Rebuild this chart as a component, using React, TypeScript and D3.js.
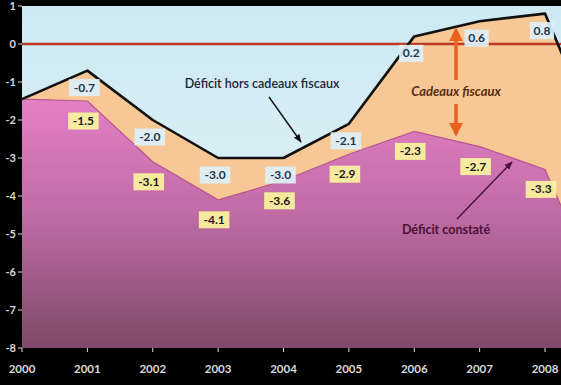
import React from 'react'
import * as d3 from 'd3'

const years = [2000, 2001, 2002, 2003, 2004, 2005, 2006, 2007, 2008, 2009]
// déficit hors cadeaux fiscaux (black line)
const horsCadeaux = [-1.45, -0.7, -2.0, -3.0, -3.0, -2.1, 0.2, 0.6, 0.8, -3.3]
// déficit constaté (pink area)
const constate = [-1.45, -1.5, -3.1, -4.1, -3.6, -2.9, -2.3, -2.7, -3.3, -7.2]
const labelYears = [2001, 2002, 2003, 2004, 2005, 2006, 2007, 2008]
const xTicks = [2000, 2001, 2002, 2003, 2004, 2005, 2006, 2007, 2008]
const yTicks = [1, 0, -1, -2, -3, -4, -5, -6, -7, -8]

const W = 561
const H = 385
const left = 22
const top = 6
const bottom = 348

const fmt = (v: number) => v.toFixed(1)

export default function App() {
  const x = d3.scaleLinear().domain([2000, 2008]).range([left, 545])
  const y = d3.scaleLinear().domain([1, -8]).range([top, bottom])

  const line = d3.line<number>().x((_, i) => x(years[i])).y(d => y(d))
  const area = d3.area<number>().x((_, i) => x(years[i])).y0(y(-8)).y1(d => y(d))

  const font = 'Lato, "Open Sans", sans-serif'

  const label = (v: number, cx: number, cy: number, kind: 'blue' | 'yellow', key: string) => {
    const t = fmt(v)
    const w = t.length * 6.4 + 5
    return (
      <g key={key}>
        <rect x={cx - w / 2} y={cy - 8.5} width={w} height={17}
          fill={kind === 'blue' ? '#dcf0f7' : '#fbf49c'} opacity={0.92} />
        <text x={cx} y={cy + 4} textAnchor="middle" fontSize={12} fontWeight={700}
          fontFamily={font} fill={kind === 'blue' ? '#1d3550' : '#1a1a1a'}>{t}</text>
      </g>
    )
  }

  return (
    <svg width={W} height={H} style={{ position: 'absolute', left: 0, top: 0, background: '#000' }}>
      <defs>
        <linearGradient id="pinkGrad" x1="0" y1={y(-1.5)} x2="0" y2={y(-8)} gradientUnits="userSpaceOnUse">
          <stop offset="0" stopColor="#e47fc4" />
          <stop offset="0.45" stopColor="#c06ca6" />
          <stop offset="1" stopColor="#7e4a68" />
        </linearGradient>
        <linearGradient id="blueGrad" x1="0" y1={top} x2="0" y2={y(-3)} gradientUnits="userSpaceOnUse">
          <stop offset="0" stopColor="#cde9f2" />
          <stop offset="1" stopColor="#d8eef5" />
        </linearGradient>
        <clipPath id="plot">
          <rect x={left} y={top} width={W - left} height={bottom - top} />
        </clipPath>
        <marker id="arrBlack" viewBox="0 0 10 10" refX="9" refY="5" markerWidth="6" markerHeight="6" orient="auto">
          <path d="M0,1 L10,5 L0,9 Z" fill="#111" />
        </marker>
        <marker id="arrMaroon" viewBox="0 0 10 10" refX="9" refY="5" markerWidth="6" markerHeight="6" orient="auto">
          <path d="M0,1 L10,5 L0,9 Z" fill="#4a1036" />
        </marker>
        <marker id="arrOrange" viewBox="0 0 10 10" refX="8" refY="5" markerWidth="4" markerHeight="4" orient="auto">
          <path d="M0,0 L10,5 L0,10 Z" fill="#e8621c" />
        </marker>
      </defs>

      <g clipPath="url(#plot)">
        <rect x={left} y={top} width={W - left} height={bottom - top} fill="url(#blueGrad)" />
        <path d={area(horsCadeaux) || ''} fill="#f8c796" />
        <path d={area(constate) || ''} fill="url(#pinkGrad)" />
        <path d={line(constate) || ''} fill="none" stroke="#b8558e" strokeWidth={1.2} />
        <line x1={left} x2={W} y1={y(0)} y2={y(0)} stroke="#bf3a26" strokeWidth={2.4} />
        <path d={line(horsCadeaux) || ''} fill="none" stroke="#111" strokeWidth={2.6} strokeLinejoin="round" />
      </g>

      {/* axes */}
      {yTicks.map(t => (
        <g key={'y' + t}>
          <line x1={left - 4} x2={left} y1={y(t)} y2={y(t)} stroke="#ddd" strokeWidth={1} />
          <text x={left - 6} y={y(t) + 4} textAnchor="end" fontSize={11} fontWeight={700}
            fontFamily={font} fill="#d8d8d8">{t}</text>
        </g>
      ))}
      {xTicks.map(t => (
        <g key={'x' + t}>
          <line x1={x(t)} x2={x(t)} y1={bottom} y2={bottom + 4} stroke="#ddd" strokeWidth={1} />
          <text x={x(t)} y={bottom + 25} textAnchor="middle" fontSize={11.5} fontWeight={700}
            fontFamily={font} fill="#d8d8d8">{t}</text>
        </g>
      ))}

      {/* value labels */}
      {labelYears.map(yr => {
        const i = years.indexOf(yr)
        return label(horsCadeaux[i], x(yr) - 3, y(horsCadeaux[i]) + 17, 'blue', 'b' + yr)
      })}
      {labelYears.map(yr => {
        const i = years.indexOf(yr)
        return label(constate[i], x(yr) - 4, y(constate[i]) + 20, 'yellow', 'p' + yr)
      })}

      {/* annotations */}
      <text x={262} y={88} textAnchor="middle" fontSize={12.5} fontWeight={600}
        fontFamily={font} fill="#1a2633">Déficit hors cadeaux fiscaux</text>
      <line x1={269} y1={97} x2={301} y2={142} stroke="#111" strokeWidth={1.4} markerEnd="url(#arrBlack)" />

      <line x1={456} y1={80} x2={456} y2={30} stroke="#e8621c" strokeWidth={3.5} markerEnd="url(#arrOrange)" />
      <line x1={456} y1={104} x2={456} y2={134} stroke="#e8621c" strokeWidth={3.5} markerEnd="url(#arrOrange)" />
      <text x={456} y={96} textAnchor="middle" fontSize={13} fontWeight={700} fontStyle="italic"
        fontFamily={font} fill="#5a2c12">Cadeaux fiscaux</text>

      <text x={446} y={234} textAnchor="middle" fontSize={12.5} fontWeight={700}
        fontFamily={font} fill="#4a1036">Déficit constaté</text>
      <line x1={457} y1={219} x2={512} y2={162} stroke="#4a1036" strokeWidth={1.4} markerEnd="url(#arrMaroon)" />
    </svg>
  )
}
